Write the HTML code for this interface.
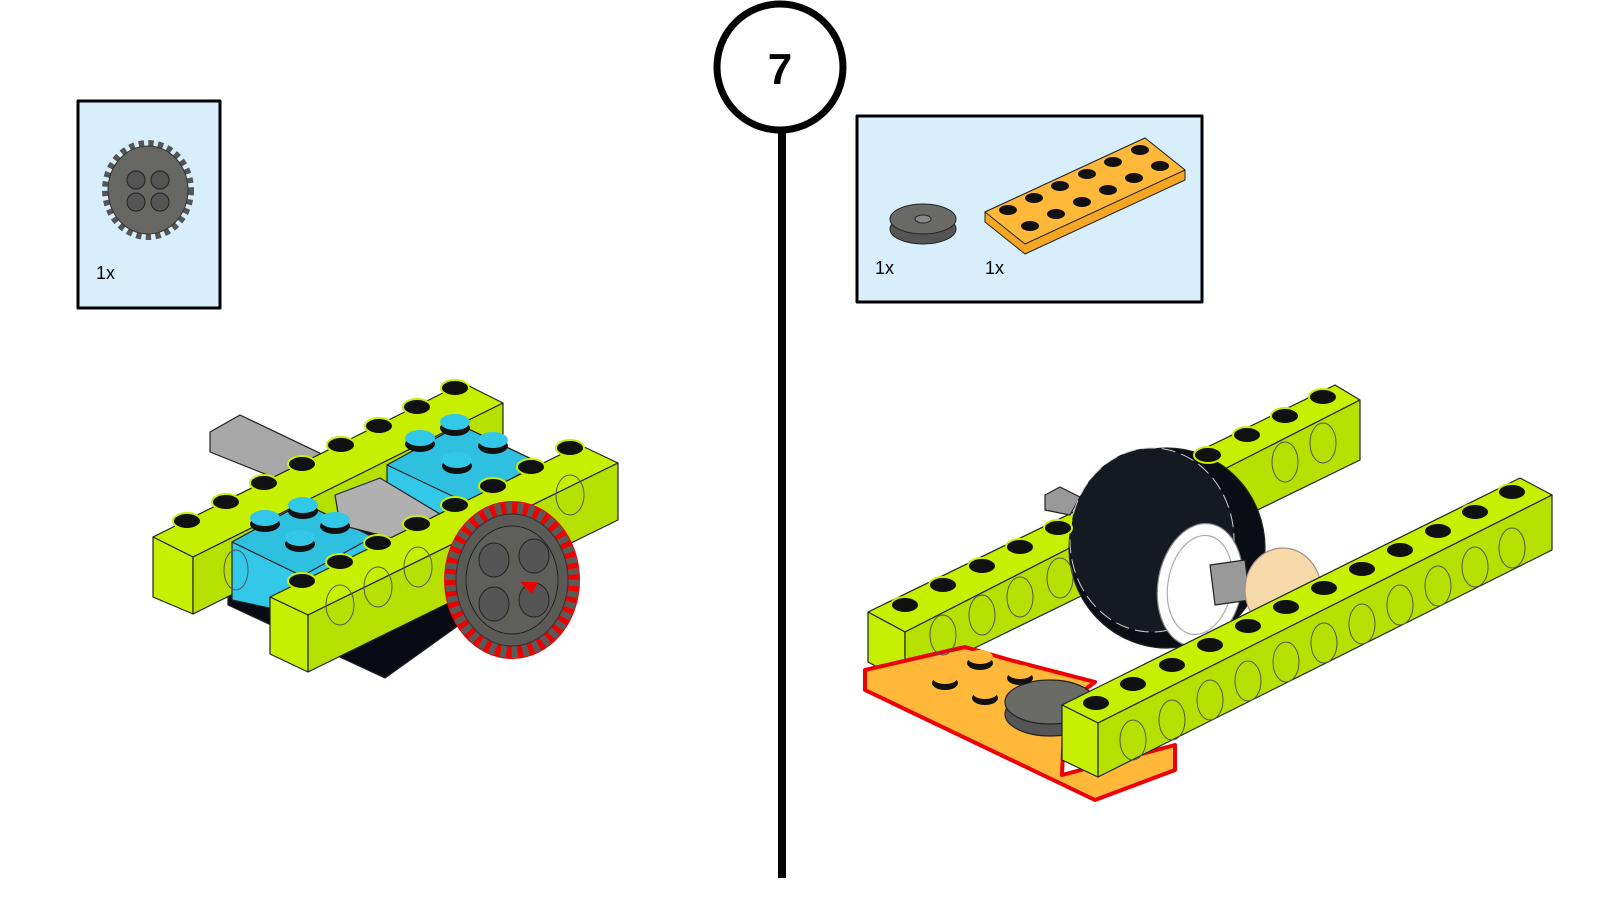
<!DOCTYPE html>
<html><head><meta charset="utf-8"><style>
html,body{margin:0;padding:0;background:#fff;width:1600px;height:900px;overflow:hidden}
svg{display:block}
text{font-family:"Liberation Sans",sans-serif}
</style></head><body>
<svg width="1600" height="900" viewBox="0 0 1600 900" stroke-linejoin="round">
<!-- divider -->
<line x1="782" y1="128" x2="782" y2="878" stroke="#000" stroke-width="8"/>
<circle cx="780" cy="67" r="63" fill="#fff" stroke="#000" stroke-width="7"/>
<text x="780" y="84" font-size="44" font-weight="bold" text-anchor="middle">7</text>

<!-- left parts box -->
<rect x="78" y="101" width="142" height="207" fill="#d8eefc" stroke="#000" stroke-width="3"/>
<g transform="translate(148,190)">
<ellipse rx="40" ry="44" fill="none" stroke="#555" stroke-width="12" stroke-dasharray="5 4"/>
<ellipse rx="40" ry="44" fill="#666663" stroke="#333"/>
<circle cx="-12" cy="-10" r="9" fill="#555" stroke="#222"/><circle cx="12" cy="-10" r="9" fill="#555" stroke="#222"/>
<circle cx="-12" cy="12" r="9" fill="#555" stroke="#222"/><circle cx="12" cy="12" r="9" fill="#555" stroke="#222"/>
</g>
<text x="96" y="279" font-size="18">1x</text>

<!-- right parts box -->
<rect x="857" y="116" width="345" height="186" fill="#d8eefc" stroke="#000" stroke-width="3"/>
<ellipse cx="923" cy="229" rx="33" ry="15" fill="#555" stroke="#222"/>
<ellipse cx="923" cy="219" rx="33" ry="15" fill="#6a6a66" stroke="#222"/>
<ellipse cx="923" cy="219" rx="8" ry="4" fill="#888" stroke="#222"/>
<polygon points="985,212 1145,138 1185,170 1185,180 1025,254 985,222" fill="#f5a623" stroke="#222"/>
<polygon points="985,212 1145,138 1185,170 1025,244" fill="#ffb83a" stroke="#222"/>
<g fill="#111">
<ellipse cx="1008" cy="210" rx="9" ry="5"/><ellipse cx="1034" cy="198" rx="9" ry="5"/><ellipse cx="1060" cy="186" rx="9" ry="5"/><ellipse cx="1087" cy="174" rx="9" ry="5"/><ellipse cx="1113" cy="162" rx="9" ry="5"/><ellipse cx="1140" cy="150" rx="9" ry="5"/>
<ellipse cx="1030" cy="226" rx="9" ry="5"/><ellipse cx="1056" cy="214" rx="9" ry="5"/><ellipse cx="1082" cy="202" rx="9" ry="5"/><ellipse cx="1108" cy="190" rx="9" ry="5"/><ellipse cx="1134" cy="178" rx="9" ry="5"/><ellipse cx="1160" cy="166" rx="9" ry="5"/>
</g>
<text x="875" y="274" font-size="18">1x</text>
<text x="985" y="274" font-size="18">1x</text>

<!-- LEFT MODEL -->
<g stroke="#222" stroke-width="1.2">
<polygon points="210,432 240,415 460,520 430,540 210,452" fill="#a8a8a8"/>
<polygon points="228,585 390,500 480,560 480,610 385,678 228,605" fill="#0a0a14"/>
<!-- back beam -->
<polygon points="153,537 463,383 503,403 193,557" fill="#c6f000"/>
<polygon points="153,537 193,557 193,614 153,597" fill="#c6f000"/>
<polygon points="193,557 503,403 503,460 193,614" fill="#b6e000"/>
<!-- blue blocks -->
<polygon points="387,465 460,425 540,463 540,520 387,600" fill="#33c8e8"/>
<polygon points="387,465 460,425 540,463 467,503" fill="#2fc0e0"/>
<polygon points="232,542 303,503 373,537 373,630 232,600" fill="#33c8e8"/>
<polygon points="232,542 303,503 373,537 302,576" fill="#2fc0e0"/>
<polygon points="335,495 380,478 450,520 420,545 340,525" fill="#b0b0b0"/>
<!-- front beam -->
<polygon points="270,597 580,445 618,463 308,615" fill="#c6f000"/>
<polygon points="270,597 308,615 308,672 270,654" fill="#c6f000"/>
<polygon points="308,615 618,463 618,520 308,672" fill="#b6e000"/>
</g>
<g fill="none" stroke="#555">
<ellipse cx="236" cy="570" rx="12" ry="20"/>
<ellipse cx="340" cy="605" rx="14" ry="20"/><ellipse cx="378" cy="587" rx="14" ry="20"/><ellipse cx="418" cy="567" rx="14" ry="20"/><ellipse cx="570" cy="495" rx="14" ry="20"/>
</g>
<g fill="#111" stroke="#c6f000" stroke-width="2">
<ellipse cx="187" cy="521" rx="14" ry="8"/><ellipse cx="226" cy="502" rx="14" ry="8"/><ellipse cx="264" cy="483" rx="14" ry="8"/><ellipse cx="302" cy="464" rx="14" ry="8"/><ellipse cx="341" cy="445" rx="14" ry="8"/><ellipse cx="379" cy="426" rx="14" ry="8"/><ellipse cx="417" cy="407" rx="14" ry="8"/><ellipse cx="455" cy="388" rx="14" ry="8"/>
<ellipse cx="302" cy="581" rx="14" ry="8"/><ellipse cx="340" cy="562" rx="14" ry="8"/><ellipse cx="378" cy="543" rx="14" ry="8"/><ellipse cx="417" cy="524" rx="14" ry="8"/><ellipse cx="455" cy="505" rx="14" ry="8"/><ellipse cx="493" cy="486" rx="14" ry="8"/><ellipse cx="531" cy="467" rx="14" ry="8"/><ellipse cx="570" cy="448" rx="14" ry="8"/>
</g>
<g>
<g fill="#111"><ellipse cx="265" cy="524" rx="15" ry="8"/><ellipse cx="303" cy="511" rx="15" ry="8"/><ellipse cx="335" cy="526" rx="15" ry="8"/><ellipse cx="300" cy="544" rx="15" ry="8"/>
<ellipse cx="420" cy="444" rx="15" ry="8"/><ellipse cx="455" cy="428" rx="15" ry="8"/><ellipse cx="493" cy="446" rx="15" ry="8"/><ellipse cx="457" cy="466" rx="15" ry="8"/></g>
<g fill="#33c8e8"><ellipse cx="265" cy="518" rx="15" ry="8"/><ellipse cx="303" cy="505" rx="15" ry="8"/><ellipse cx="335" cy="520" rx="15" ry="8"/><ellipse cx="300" cy="538" rx="15" ry="8"/>
<ellipse cx="420" cy="438" rx="15" ry="8"/><ellipse cx="455" cy="422" rx="15" ry="8"/><ellipse cx="493" cy="440" rx="15" ry="8"/><ellipse cx="457" cy="460" rx="15" ry="8"/></g>
</g>
<!-- gear -->
<g transform="translate(512,580)">
<ellipse rx="68" ry="79" fill="#e00"/>
<ellipse rx="61" ry="72" fill="none" stroke="#5a5a56" stroke-width="12" stroke-dasharray="6 5"/>
<ellipse rx="56" ry="66" fill="#5a5a56" stroke="#333"/>
<ellipse rx="46" ry="54" fill="#5e5e5a" stroke="#222"/>
<ellipse cx="-18" cy="-20" rx="15" ry="17" fill="#555" stroke="#222"/><ellipse cx="22" cy="-24" rx="15" ry="17" fill="#555" stroke="#222"/>
<ellipse cx="-18" cy="24" rx="15" ry="17" fill="#555" stroke="#222"/><ellipse cx="22" cy="20" rx="15" ry="17" fill="#555" stroke="#222"/>
<path d="M8,2 L26,2 L20,14 Z" fill="#e00"/>
</g>

<!-- RIGHT MODEL -->
<g stroke="#222" stroke-width="1.2">
<!-- back beam -->
<polygon points="868,612 1335,385 1360,400 905,632" fill="#c6f000"/>
<polygon points="868,612 905,632 905,682 868,662" fill="#c6f000"/>
<polygon points="905,632 1360,400 1360,460 905,682" fill="#b6e000"/>
<polygon points="1045,495 1060,487 1080,497 1070,515 1045,510" fill="#999"/>
<!-- wheel -->
<ellipse cx="1167" cy="548" rx="98" ry="100" fill="#0a0d14"/>
<ellipse cx="1152" cy="540" rx="82" ry="92" fill="#151a22" stroke="#ccc" stroke-width="1" stroke-dasharray="14 6"/>
<ellipse cx="1200" cy="585" rx="42" ry="62" transform="rotate(10 1200 585)" fill="#fff" stroke="#888"/>
<ellipse cx="1200" cy="585" rx="32" ry="50" transform="rotate(10 1200 585)" fill="#fff" stroke="#aaa"/>
<polygon points="1210,565 1245,560 1250,600 1215,605" fill="#999"/>
<ellipse cx="1283" cy="590" rx="38" ry="42" fill="#f5d9a8" stroke="#a88"/>
<!-- orange plate -->
<polygon points="865,670 965,647 1010,660 1095,682 1065,705 1062,775 1175,745 1175,770 1095,800 865,690" fill="#ffb83a" stroke="#e00" stroke-width="4"/>
<ellipse cx="1050" cy="714" rx="45" ry="22" fill="#555" stroke="#222"/>
<ellipse cx="1050" cy="702" rx="45" ry="22" fill="#6a6a66" stroke="#222"/>
<!-- front beam -->
<polygon points="1062,705 1520,478 1552,495 1098,723" fill="#c6f000"/>
<polygon points="1062,705 1098,723 1098,777 1062,760" fill="#c6f000"/>
<polygon points="1098,723 1552,495 1552,550 1098,777" fill="#b6e000"/>
</g>
<g fill="none" stroke="#555">
<ellipse cx="943" cy="635" rx="13" ry="20"/><ellipse cx="982" cy="615" rx="13" ry="20"/><ellipse cx="1020" cy="597" rx="13" ry="20"/><ellipse cx="1060" cy="578" rx="13" ry="20"/><ellipse cx="1285" cy="462" rx="13" ry="20"/><ellipse cx="1323" cy="443" rx="13" ry="20"/>
<ellipse cx="1133" cy="740" rx="13" ry="20"/><ellipse cx="1172" cy="720" rx="13" ry="20"/><ellipse cx="1210" cy="700" rx="13" ry="20"/><ellipse cx="1248" cy="681" rx="13" ry="20"/><ellipse cx="1286" cy="662" rx="13" ry="20"/><ellipse cx="1324" cy="643" rx="13" ry="20"/><ellipse cx="1362" cy="624" rx="13" ry="20"/><ellipse cx="1400" cy="605" rx="13" ry="20"/><ellipse cx="1438" cy="586" rx="13" ry="20"/><ellipse cx="1475" cy="567" rx="13" ry="20"/><ellipse cx="1512" cy="548" rx="13" ry="20"/>
</g>
<g fill="#111" stroke="#c6f000" stroke-width="2">
<ellipse cx="905" cy="605" rx="14" ry="8"/><ellipse cx="943" cy="585" rx="14" ry="8"/><ellipse cx="982" cy="566" rx="14" ry="8"/><ellipse cx="1020" cy="547" rx="14" ry="8"/><ellipse cx="1058" cy="528" rx="14" ry="8"/><ellipse cx="1208" cy="455" rx="14" ry="8"/><ellipse cx="1247" cy="435" rx="14" ry="8"/><ellipse cx="1285" cy="416" rx="14" ry="8"/><ellipse cx="1323" cy="397" rx="14" ry="8"/>
<ellipse cx="1096" cy="703" rx="14" ry="8"/><ellipse cx="1133" cy="684" rx="14" ry="8"/><ellipse cx="1172" cy="665" rx="14" ry="8"/><ellipse cx="1210" cy="645" rx="14" ry="8"/><ellipse cx="1248" cy="626" rx="14" ry="8"/><ellipse cx="1286" cy="607" rx="14" ry="8"/><ellipse cx="1324" cy="588" rx="14" ry="8"/><ellipse cx="1362" cy="569" rx="14" ry="8"/><ellipse cx="1400" cy="550" rx="14" ry="8"/><ellipse cx="1438" cy="531" rx="14" ry="8"/><ellipse cx="1475" cy="512" rx="14" ry="8"/><ellipse cx="1512" cy="492" rx="14" ry="8"/>
</g>
<g fill="#111">
<ellipse cx="945" cy="683" rx="13" ry="7"/><ellipse cx="980" cy="663" rx="13" ry="7"/><ellipse cx="985" cy="698" rx="13" ry="7"/><ellipse cx="1020" cy="678" rx="13" ry="7"/>
</g>
<g fill="#ffb83a"><ellipse cx="945" cy="677" rx="13" ry="7"/><ellipse cx="980" cy="657" rx="13" ry="7"/><ellipse cx="985" cy="692" rx="13" ry="7"/><ellipse cx="1020" cy="672" rx="13" ry="7"/></g>
</svg>
</body></html>
